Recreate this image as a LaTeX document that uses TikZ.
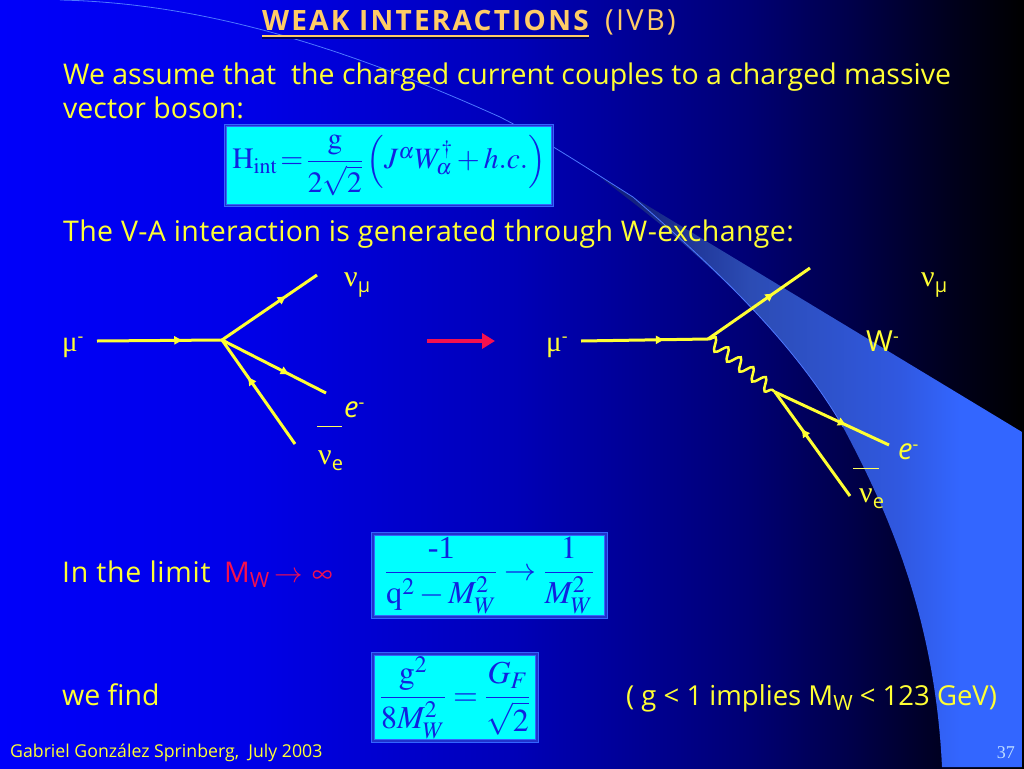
\documentclass[tikz,border=0pt]{standalone}
\usepackage{amsmath}
\usepackage{mathptmx}
\usepackage[no-math]{fontspec}
\setmainfont{Open Sans}
\newfontfamily\serifface{Liberation Serif}
\usepackage{xcolor}
\usetikzlibrary{arrows.meta}
\usetikzlibrary{decorations.markings}
\usetikzlibrary{decorations.pathmorphing}

\definecolor{bodyyellow}{HTML}{FFFF33}
\definecolor{titleorange}{HTML}{FFCC66}
\definecolor{titleshadow}{HTML}{00005A}
\definecolor{swooshblue}{HTML}{3366FF}
\definecolor{edgeblue}{HTML}{4D77FF}
\definecolor{formulablue}{HTML}{1122E0}
\definecolor{formulacyan}{HTML}{00FFFF}
\definecolor{gapblue}{HTML}{2233CC}
\definecolor{hotred}{HTML}{F5104F}
\definecolor{pagecyan}{HTML}{BFDFFF}
\definecolor{bga}{HTML}{0000FA}
\definecolor{bgb}{HTML}{0000E8}
\definecolor{bgc}{HTML}{0000B8}
\definecolor{bgd}{HTML}{000074}
\definecolor{bge}{HTML}{00004A}
\definecolor{bgf}{HTML}{00001C}
\definecolor{bgg}{HTML}{000000}
\definecolor{swa}{HTML}{14227F}
\definecolor{swb}{HTML}{2C4CB4}
\definecolor{swc}{HTML}{3058E0}

% the path takes up 25bp to 75bp of these shadings
\pgfdeclarehorizontalshading{slidebg}{100bp}{
  color(0bp)=(bga); color(25bp)=(bga); color(37bp)=(bgb); color(50bp)=(bgc);
  color(61.5bp)=(bgd); color(66.5bp)=(bge); color(71.5bp)=(bgf); color(75bp)=(bgg); color(100bp)=(bgg)}
\pgfdeclarehorizontalshading{swooshfade}{100bp}{
  color(0bp)=(swa); color(56bp)=(swa); color(61.7bp)=(swb);
  color(69bp)=(swc); color(72bp)=(swooshblue); color(100bp)=(swooshblue)}

\newcommand{\fsz}[1]{\fontsize{#1}{#1}\selectfont}
\newcommand{\lowsub}[1]{\raisebox{-5pt}{\fsz{21}#1}}
\newcommand{\highsup}[1]{\raisebox{9pt}{\fsz{18}#1}}
\newcommand{\nulab}[1]{{\serifface\fsz{30}ν}\raisebox{-6pt}{\fsz{20}#1}}

\tikzset{
  bodytext/.style={anchor=base west, inner sep=0pt, text=bodyyellow, font=\fsz{28.5}},
  partlabel/.style={anchor=base west, inner sep=0pt, text=bodyyellow, font=\fsz{29}},
  formbox/.style={draw=swooshblue, line width=1.2pt, double=gapblue, double distance=1.2pt,
    fill=formulacyan, inner sep=0pt, text=formulablue, font=\fsz{32}},
  fermion/.style={draw=bodyyellow, line width=3pt, decoration={markings,
    mark=at position #1 with {\arrow[line width=1pt]{Latex[length=9pt,width=9pt]}}}, postaction={decorate}},
  wboson/.style={draw=bodyyellow, line width=2.5pt, decorate,
    decoration={snake, segment length=16pt, amplitude=6pt}},
  barmark/.style={draw=bodyyellow!80, line width=0.8pt}
}

\begin{document}
\begin{tikzpicture}[x=1pt, y=-1pt]
  \useasboundingbox (0,0) rectangle (1024,768);
  % background
  \shade[shading=slidebg] (0,0) rectangle (1024,768);
  \begin{scope}
    \clip (600,177) -- (1022,432) -- (1022,767) -- (942,767)
      .. controls (935,620) and (890,515) .. (843,427)
      .. controls (790,335) and (700,255) .. (640,208) -- cycle;
    \shade[shading=swooshfade] (0,0) rectangle (1022,768);
  \end{scope}
  \draw[edgeblue, line width=0.8pt] (60,0) .. controls (200,3) and (340,45) .. (500,117)
    .. controls (545,140) and (590,170) .. (633,197)
    .. controls (700,255) and (790,335) .. (843,427);

  % title
  \node[anchor=base west, inner sep=0pt, text=titleorange, font=\fsz{28}\bfseries\addfontfeature{LetterSpace=8}] (title) at (262,31) {WEAK INTERACTIONS};
  \draw[titleshadow, line width=2pt] ([yshift=-7pt]title.south west) -- ([yshift=-7pt]title.south east);
  \draw[titleorange, line width=2pt] ([yshift=-5pt]title.south west) -- ([yshift=-5pt]title.south east);
  \node[anchor=base west, inner sep=0pt, text=titleorange, font=\fsz{29}\addfontfeature{LetterSpace=8}] (ivb) at (605,31) {(IVB)};

  % text lines
  \node[bodytext] (assume) at (63,84) {We assume that\ \ the charged current couples to a charged massive};
  \node[bodytext] (vector) at (63,118) {vector boson:};
  \node[bodytext, font=\fsz{28.5}\addfontfeature{LetterSpace=1.4}] (vminusa) at (63,241) {The V-A interaction is generated through W-exchange:};
  \node[bodytext, font=\fsz{28.5}\addfontfeature{LetterSpace=2.5}] (limit) at (62,582) {In the limit};
  \node[bodytext, text=hotred] (mw) at (224,582) {M\lowsub{W}\,$\rightarrow\,\infty$};
  \node[bodytext] (wefind) at (62,705) {we find};
  \node[bodytext, font=\fsz{27.5}] (implies) at (626,705) {( g < 1 implies M\lowsub{W} < 123 GeV)};
  \node[bodytext, font=\fsz{17.7}] (footer) at (10,757) {Gabriel González Sprinberg,\ \ July 2003};
  \node[anchor=base east, inner sep=0pt, text=pagecyan, font=\serifface\fsz{18}] (pagenum) at (1015,758) {37};

  % formulas
  \node[formbox, font=\fsz{29.5}, minimum width=327pt, minimum height=80pt] (hint) at (389,165.5)
    {$\mathrm{H}_{\mathrm{int}}\!=\!\dfrac{\mathrm{g}}{2\sqrt{2}}\left(J^{\alpha}W_{\alpha}^{\dagger}+h.c.\right)$};
  \node[formbox, minimum width=233pt, minimum height=83pt] (limitbox) at (489.5,575.5)
    {$\dfrac{\text{\serifface -1}}{\mathrm{q}^{2}-M_{W}^{2}}\rightarrow\dfrac{1}{M_{W}^{2}}$};
  \node[formbox, minimum width=164pt, minimum height=87pt] (gfbox) at (455,697.5)
    {$\dfrac{\mathrm{g}^{2}}{8M_{W}^{2}}=\dfrac{G_{F}}{\sqrt{2}}$};

  % first diagram
  \coordinate (vtxa) at (222,340);
  \coordinate (muina) at (97,341);
  \coordinate (numua) at (317,275);
  \coordinate (elea) at (326,393);
  \coordinate (nuea) at (295,444);
  \draw[fermion=0.69] (muina) -- (vtxa);
  \draw[fermion=0.68] (vtxa) -- (numua);
  \draw[fermion=0.65] (vtxa) -- (elea);
  \draw[fermion=0.65] (nuea) -- (vtxa);
  \node[partlabel] (numulaba) at (344,286) {\nulab{μ}};
  \node[partlabel] (mulaba) at (62,351) {{\serifface μ}\highsup{-}};
  \node[partlabel] (elaba) at (344,417) {\textit{e}\highsup{-}};
  \node[partlabel] (nuelaba) at (318,464) {\nulab{e}};
  \draw[barmark] (317,426) -- (342,426);

  % red arrow
  \coordinate (exfrom) at (427,341);
  \coordinate (exto) at (495,341);
  \draw[hotred, line width=4pt, -{Triangle[length=13pt,width=15pt]}] (exfrom) -- (exto);

  % second diagram
  \coordinate (vtxb) at (708,339);
  \coordinate (vtxc) at (775,392);
  \coordinate (muinb) at (581,341);
  \coordinate (numub) at (810,268);
  \coordinate (eleb) at (889,445);
  \coordinate (nueb) at (850,496);
  \draw[fermion=0.66] (muinb) -- (vtxb);
  \draw[fermion=0.65] (vtxb) -- (numub);
  \draw[wboson] (vtxb) -- (vtxc);
  \draw[fermion=0.63] (vtxc) -- (eleb);
  \draw[fermion=0.65] (nueb) -- (vtxc);
  \node[partlabel] (numulabb) at (921,286) {\nulab{μ}};
  \node[partlabel] (mulabb) at (546,351) {{\serifface μ}\highsup{-}};
  \node[partlabel] (wlab) at (866,351) {W\highsup{-}};
  \node[partlabel] (elabb) at (898,459) {\textit{e}\highsup{-}};
  \node[partlabel] (nuelabb) at (859,502) {\nulab{e}};
  \draw[barmark] (853,468) -- (879,468);
\end{tikzpicture}
\end{document}
